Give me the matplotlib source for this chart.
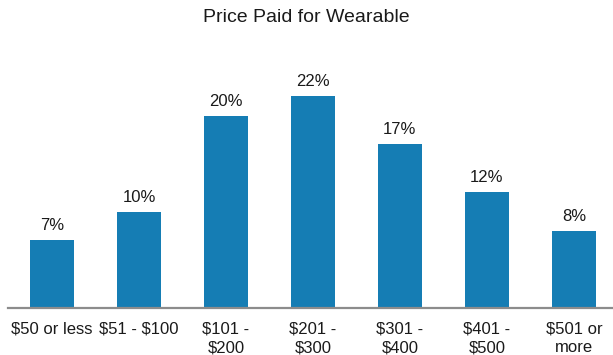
import matplotlib
matplotlib.use("Agg")
import matplotlib.pyplot as plt

categories = ["$50 or less", "$51 - $100", "$101 -\n$200", "$201 -\n$300",
              "$301 -\n$400", "$401 -\n$500", "$501 or\nmore"]
shares = [7, 10, 20, 22, 17, 12, 8]
value_labels = [f"{v}%" for v in shares]

plt.rcParams["font.family"] = ["Liberation Sans", "DejaVu Sans"]

fig = plt.figure(figsize=(6.13, 3.55), dpi=100)
ax = fig.add_axes([8 / 613, 47.5 / 355, 605 / 613, 240 / 355])

x = list(range(len(categories)))
ax.bar(x, shares, width=0.5, color="#157db4", zorder=2)

for xi, v, lab in zip(x, shares, value_labels):
    ax.annotate(lab, (xi, v), xytext=(0, 7.2), textcoords="offset points",
                ha="center", va="baseline", fontsize=12, color="#1a1a1a")

ax.set_xlim(-0.506, 6.45)
ax.set_ylim(0, 25)
ax.set_xticks(x)
ax.set_xticklabels([c.replace("$", r"\$") for c in categories],
                   fontsize=12, color="#1a1a1a", linespacing=1.34)
ax.tick_params(axis="x", length=0, pad=10)
ax.set_yticks([])
for side in ("top", "right", "left"):
    ax.spines[side].set_visible(False)
ax.spines["bottom"].set_color("#8c8c8c")
ax.spines["bottom"].set_linewidth(1.6)

fig.text(0.5, 1 - 18 / 355, "Price Paid for Wearable", ha="center", va="center",
         fontsize=14, color="#1a1a1a")

fig.savefig("out.png", dpi=100)
